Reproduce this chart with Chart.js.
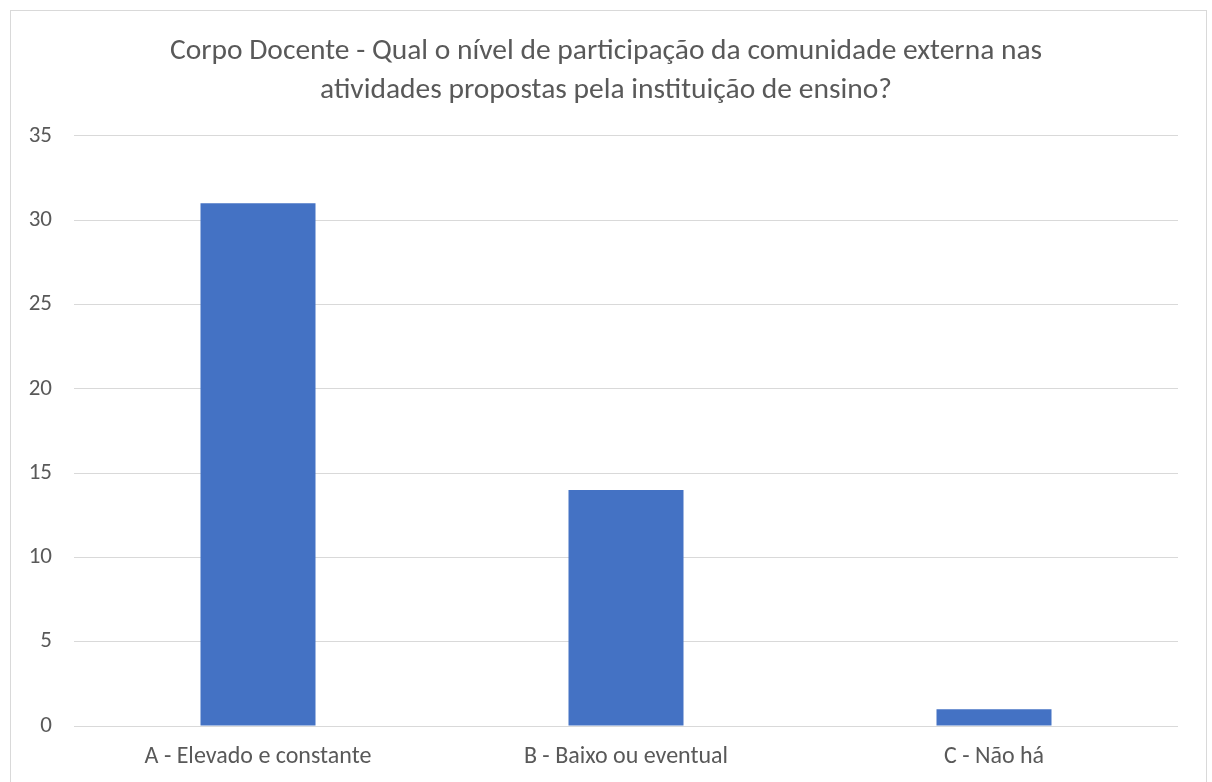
<!DOCTYPE html>
<html><head><meta charset="utf-8">
<script src="https://cdn.jsdelivr.net/npm/chart.js@4/dist/chart.umd.min.js"></script>
<style>html,body{margin:0;padding:0;background:#fff;overflow:hidden}#wrap{position:absolute;left:0;top:0;width:1212px;height:782px}</style>
</head><body>
<div id="wrap"><canvas id="c" width="1212" height="782"></canvas></div>
<script>
const categories = ["A - Elevado e constante", "B - Baixo ou eventual", "C - Não há"];
const values = [31, 14, 1];
const titleLines = ["Corpo Docente - Qual o nível de participação da comunidade externa nas", "atividades propostas pela instituição de ensino?"];
const yTicks = [0, 5, 10, 15, 20, 25, 30, 35];

const FONT = "Carlito, 'Liberation Sans', 'Noto Sans', sans-serif";
const frame = {
  id: 'frame',
  beforeDraw(chart) {
    const c = chart.ctx;
    c.save();
    c.fillStyle = '#fff';
    c.fillRect(0, 0, chart.width, chart.height);
    c.strokeStyle = '#d9d9d9';
    c.lineWidth = 1;
    c.strokeRect(10.5, 10.5, 1196, 800);
    c.restore();
  }
};
new Chart(document.getElementById('c'), {
  type: 'bar',
  data: { labels: categories, datasets: [{ data: values, backgroundColor: '#4472C4', barPercentage: 0.3125, categoryPercentage: 1 }] },
  options: {
    responsive: false, animation: false,
    layout: { padding: { left: 24, right: 24, top: 0, bottom: 0 } },
    plugins: {
      legend: { display: false }, tooltip: { enabled: false },
      title: { display: true, text: titleLines, color: '#595959', font: { family: FONT, size: 29.5, weight: 'normal', lineHeight: 1.32 }, padding: { top: 32, bottom: 26 } }
    },
    scales: {
      x: {
        grid: { display: false, drawTicks: false },
        border: { display: false },
        ticks: { color: '#595959', font: { family: FONT, size: 24 }, padding: 17, maxRotation: 0 },
        afterFit(s) { s.height = 56; }
      },
      y: {
        min: 0, max: 35,
        afterBuildTicks(s) { s.ticks = yTicks.map(v => ({ value: v })); },
        grid: { color: '#d9d9d9', lineWidth: 1, drawTicks: false },
        border: { display: false },
        ticks: { color: '#595959', font: { family: FONT, size: 23 }, padding: 22 },
        afterFit(s) { s.width = 50; }
      },
      y2: {
        type: 'linear', position: 'right', display: true,
        grid: { display: false, drawTicks: false },
        border: { display: false },
        ticks: { display: false },
        afterFit(s) { s.width = 10; }
      }
    }
  },
  plugins: [frame]
});
</script>
</body></html>
